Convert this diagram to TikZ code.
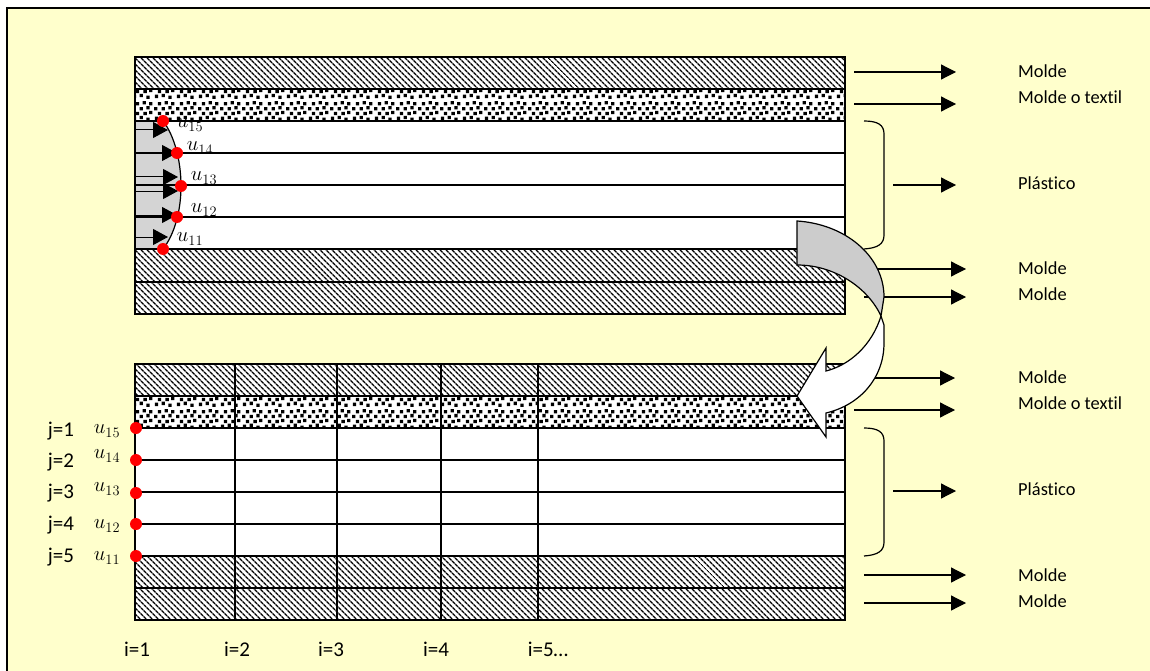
\documentclass[tikz,border=0pt]{standalone}
\usepackage{fontspec}
\setmainfont[Ligatures=NoCommon]{Carlito}
\usetikzlibrary{arrows.meta,patterns,patterns.meta}
\definecolor{fondo}{HTML}{FFFFCC}
\definecolor{perfil}{HTML}{D4D4D4}
\definecolor{flechagris}{HTML}{CCCCCC}
\newcommand{\cuadrito}[2]{\pgfpathrectangle{\pgfpoint{#1pt}{#2pt}}{\pgfpoint{3.4pt}{3.4pt}}}
\pgfdeclarepatternformonly{moldetextil}{\pgfpointorigin}{\pgfqpoint{22pt}{22pt}}{\pgfqpoint{22pt}{22pt}}{
  \cuadrito{1}{1}\cuadrito{8}{2}\cuadrito{15}{0}
  \cuadrito{4}{6}\cuadrito{12}{6}\cuadrito{18}{7}
  \cuadrito{0}{11}\cuadrito{8}{11}\cuadrito{15}{12}
  \cuadrito{4}{16}\cuadrito{11}{17}\cuadrito{18}{16}
  \pgfusepath{fill}}
\tikzset{
  capa/.style={draw=black,line width=1.2pt},
  molde/.style={capa,pattern={Lines[angle=-45,distance=4pt,line width=1.5pt]}},
  textil/.style={capa,pattern=moldetextil},
  linea/.style={black,line width=1.2pt},
  flecha/.style={black,line width=1.2pt,-{Triangle[length=15pt,width=15pt]}},
  flechita/.style={black,line width=1pt,-{Triangle[length=15pt,width=16pt]}},
  punto/.style={circle,fill=red,inner sep=0pt,minimum size=12pt},
  etiqueta/.style={anchor=west,inner sep=0pt},
  texto/.style={inner sep=0pt,font=\fontsize{21}{25}\selectfont}}

\begin{document}
\begin{tikzpicture}[x=1pt,y=-1pt,font=\fontsize{18.4}{22}\selectfont]
  \useasboundingbox (0,0) rectangle (1150,671);
  \fill[fondo] (7,8) rectangle (1150,671);
  \draw[black,line width=1.5pt] (7,671) -- (7,8) -- (1150,8);

  % --- upper block
  \fill[white] (135,57) rectangle (845,314);
  \draw[molde] (135,57) rectangle (845,89);
  \draw[textil] (135,89) rectangle (845,121);
  \draw[molde] (135,249) rectangle (845,282);
  \draw[molde] (135,282) rectangle (845,314);
  \fill[perfil] (135,121) -- (163,121) .. controls (174,135) and (181,160) .. (181,186)
        .. controls (181,212) and (174,235) .. (163,249) -- (135,249) -- cycle;
  \draw[capa] (135,121) rectangle (845,249);
  \draw[linea] (135,153) -- (845,153);
  \draw[linea] (135,185) -- (845,185);
  \draw[linea] (135,217) -- (845,217);
  \draw[linea] (163,121) .. controls (174,135) and (181,160) .. (181,186)
        .. controls (181,212) and (174,235) .. (163,249);

  % --- velocity profile
  \coordinate (p1a) at (135,130); \coordinate (p1b) at (168,130);
  \coordinate (p2a) at (135,153); \coordinate (p2b) at (177,153);
  \coordinate (p3a) at (135,177); \coordinate (p3b) at (178,177);
  \coordinate (p4a) at (135,191); \coordinate (p4b) at (178,191);
  \coordinate (p5a) at (135,215); \coordinate (p5b) at (177,215);
  \coordinate (p6a) at (135,237); \coordinate (p6b) at (168,237);
  \draw[flechita] (p1a) -- (p1b);
  \draw[flechita] (p2a) -- (p2b);
  \draw[flechita] (p3a) -- (p3b);
  \draw[flechita] (p4a) -- (p4b);
  \draw[flechita] (p5a) -- (p5b);
  \draw[flechita] (p6a) -- (p6b);
  \node[punto] (a15) at (163,121) {};
  \node[punto] (a14) at (177,153) {};
  \node[punto] (a13) at (181,186) {};
  \node[punto] (a12) at (177,217) {};
  \node[punto] (a11) at (163,249) {};
  \node[texto] (ua15) at (190,125) {$u_{15}$};
  \node[texto] (ua14) at (200,148) {$u_{14}$};
  \node[texto] (ua13) at (204,178) {$u_{13}$};
  \node[texto] (ua12) at (204,210) {$u_{12}$};
  \node[texto] (ua11) at (190,239) {$u_{11}$};

  % --- lower block
  \fill[white] (135,364) rectangle (845,620);
  \draw[molde] (135,364) rectangle (845,396);
  \draw[textil] (135,396) rectangle (845,428);
  \draw[molde] (135,556) rectangle (845,588);
  \draw[molde] (135,588) rectangle (845,620);
  \draw[capa] (135,428) rectangle (845,556);
  \draw[linea] (135,460) -- (845,460);
  \draw[linea] (135,492) -- (845,492);
  \draw[linea] (135,524) -- (845,524);
  \draw[linea] (235,364) -- (235,620);
  \draw[linea] (337,364) -- (337,620);
  \draw[linea] (441,364) -- (441,620);
  \draw[linea] (538,364) -- (538,620);
  \node[punto] (b15) at (136,428) {};
  \node[punto] (b14) at (136,460) {};
  \node[punto] (b13) at (136,493) {};
  \node[punto] (b12) at (136,524) {};
  \node[punto] (b11) at (136,556) {};
  \node[texto] (ub15) at (107,431) {$u_{15}$};
  \node[texto] (ub14) at (107,456) {$u_{14}$};
  \node[texto] (ub13) at (107,489) {$u_{13}$};
  \node[texto] (ub12) at (107,526) {$u_{12}$};
  \node[texto] (ub11) at (107,558) {$u_{11}$};
  \node[texto] (j1) at (61,431) {j=1};
  \node[texto] (j2) at (61,462) {j=2};
  \node[texto] (j3) at (61,493) {j=3};
  \node[texto] (j4) at (61,525) {j=4};
  \node[texto] (j5) at (61,557) {j=5};
  \node[texto] (i1) at (137,649) {i=1};
  \node[texto] (i2) at (237,649) {i=2};
  \node[texto] (i3) at (331,649) {i=3};
  \node[texto] (i4) at (436,649) {i=4};
  \node[texto] (i5) at (548,649) {i=5\dots};

  % --- braces
  \draw[linea] (864,121) .. controls (878,121) and (884,125) .. (884,134) -- (884,235)
        .. controls (884,244) and (878,248) .. (864,249);
  \draw[linea] (864,428) .. controls (878,428) and (884,432) .. (884,441) -- (884,542)
        .. controls (884,551) and (878,555) .. (864,556);

  % --- labels on the right
  \node[etiqueta] (t1) at (1018,71) {Molde};
  \node[etiqueta] (t2) at (1018,97) {Molde o textil};
  \node[etiqueta] (t3) at (1018,183) {Plástico};
  \node[etiqueta] (t4) at (1018,268) {Molde};
  \node[etiqueta] (t5) at (1018,294) {Molde};
  \node[etiqueta] (t6) at (1018,377) {Molde};
  \node[etiqueta] (t7) at (1018,403) {Molde o textil};
  \node[etiqueta] (t8) at (1018,489) {Plástico};
  \node[etiqueta] (t9) at (1018,575) {Molde};
  \node[etiqueta] (t10) at (1018,601) {Molde};

  \coordinate (s1) at (854,72); \coordinate (e1) at (956,72);
  \coordinate (s2) at (854,104); \coordinate (e2) at (956,104);
  \coordinate (s3) at (893,185); \coordinate (e3) at (956,185);
  \coordinate (s4) at (864,269); \coordinate (e4) at (966,269);
  \coordinate (s5) at (864,297); \coordinate (e5) at (966,297);
  \coordinate (s6) at (864,378); \coordinate (e6) at (955,378);
  \coordinate (s7) at (854,410); \coordinate (e7) at (955,410);
  \coordinate (s8) at (893,491); \coordinate (e8) at (956,491);
  \coordinate (s9) at (864,575); \coordinate (e9) at (966,575);
  \coordinate (s10) at (864,603); \coordinate (e10) at (966,603);
  \draw[flecha] (s1) -- (e1);
  \draw[flecha] (s2) -- (e2);
  \draw[flecha] (s3) -- (e3);
  \draw[flecha] (s4) -- (e4);
  \draw[flecha] (s5) -- (e5);
  \draw[flecha] (s6) -- (e6);
  \draw[flecha] (s7) -- (e7);
  \draw[flecha] (s8) -- (e8);
  \draw[flecha] (s9) -- (e9);
  \draw[flecha] (s10) -- (e10);

  % --- the big curved arrow
  \draw[black,line width=1.2pt,fill=white] (881,316) -- (884,325) -- (884,343)
        .. controls (884,378) and (860,405) .. (826,413) -- (826,437) -- (797,396)
        -- (826,348) -- (826,371) .. controls (850,365) and (872,345) .. (881,316);
  \draw[black,line width=1.2pt,fill=flechagris] (797,221) .. controls (845,224) and (884,256) .. (884,297)
        -- (881,316) .. controls (868,288) and (835,265) .. (797,265) -- cycle;
\end{tikzpicture}
\end{document}
